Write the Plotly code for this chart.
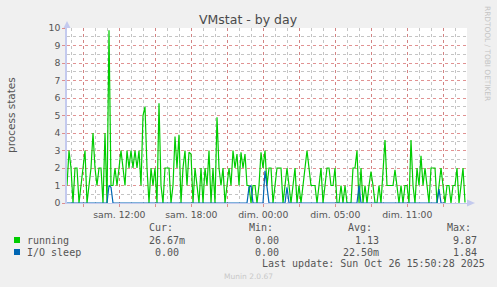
import plotly.graph_objects as go

# ---- data (one sample every 10 minutes, hours from window start) ----
running = [
    1, 3, 2, 0, 2, 2, 0, 1, 2, 3, 0, 1, 2, 4, 2, 1, 2, 2, 0, 4,
    0, 9.87, 1, 1, 2, 1, 2, 3, 2, 1, 3, 2, 3, 2,
    3, 2, 3, 1, 5, 5.5, 2, 0, 2, 1, 2, 0, 5.7, 1, 0, 2, 2, 2, 0, 1,
    3.8, 2, 3.9, 0, 2, 3, 1, 2.9, 2.8, 0, 2, 1, 0, 2,
    0, 2, 1, 3, 0, 2, 0, 4.9, 2, 1, 2, 0, 1, 2, 1, 3, 2, 2.8, 1, 2.9,
    2, 2.8, 1, 1, 0, 1, 1, 0, 1, 2.9, 2, 3, 1, 2,
    2, 0, 1, 2, 2, 2, 0, 1, 2, 1, 0, 1, 2, 0, 1, 0, 1, 2, 3, 2,
    1, 1, 1, 0, 1, 2, 0, 1, 2, 2, 1, 1, 2, 0,
    0, 1, 0, 1, 0, 0, 0, 2, 2, 3, 0, 2, 0, 1, 0, 1, 1.8, 1, 0, 0,
    1, 0, 2, 3.6, 1, 1, 1, 1, 1.9, 1, 0, 1, 0, 1,
    1, 0, 3.6, 1, 0, 2, 1, 2.7, 1, 2, 1, 0, 2, 2, 2, 0, 1, 2, 1, 0,
    1, 1, 0, 1, 1, 2, 0, 1, 2, 0.03,
]
io_sleep = [
    0, 0, 0, 0, 0, 0, 0, 0, 0, 0, 0, 0, 0, 0, 0, 0, 0, 0, 0, 0,
    0, 1, 0.9, 0, 0, 0, 0, 0, 0, 0, 0, 0, 0, 0, 0, 0, 0, 0, 0, 0,
    0, 0, 0, 0, 0, 0, 0, 0, 0, 0, 0, 0, 0, 0, 0, 0, 0, 0, 0, 0,
    0, 0, 0, 0, 0, 0, 0, 0, 0, 0, 0, 0, 0, 0, 0, 0, 0, 0, 0, 0,
    0, 0, 0, 0, 0, 0, 0, 0, 0, 0, 0, 0.9, 1, 0, 0, 0, 0, 0, 0, 1.84,
    1, 0, 0, 0, 0, 0, 0, 0, 0, 0, 0.9, 0, 0, 0, 0, 0, 0, 0, 0, 0,
    0, 0, 0, 0, 0, 0, 0, 0, 0, 0, 0, 0, 0, 0, 0, 0, 0, 0, 0, 0,
    0, 0, 0, 0, 0, 0, 1, 0, 0, 0, 0, 0, 0, 0, 0, 0, 0, 0, 0, 0,
    0, 0, 0, 0, 0, 0, 0, 0, 0, 0, 0, 0, 0, 0, 0, 0, 0, 0, 0, 0,
    0, 0, 0, 0, 0, 0, 0.8, 0, 0, 0,
]
hours = [i / 6 for i in range(len(running))]

major_ticks = [1.36 + 3 * k for k in range(11)]
major_text = ["", "sam. 12:00", "", "sam. 18:00", "", "dim. 00:00", "",
              "dim. 05:00", "", "dim. 11:00", ""]

series_names = ["running", "I/O sleep"]
series_colors = ["#00CC00", "#0066B3"]
legend_cur = ["26.67m", "0.00"]
legend_min = ["0.00", "0.00"]
legend_avg = ["1.13", "22.50m"]
legend_max = ["9.87", "1.84"]

# ---- geometry helpers ----
W, H = 497, 287
L, R, T, B = 67, 467, 28, 203


def px(x):
    return (x - L) / (R - L)


def py(y):
    return (B - y) / (B - T)


fig = go.Figure()
for name, ys, col in zip(series_names, [running, io_sleep], series_colors):
    fig.add_trace(go.Scatter(x=hours, y=ys, mode="lines", name=name,
                             line=dict(color=col, width=1.2), hoverinfo="skip"))

grid_red = "rgba(215,110,110,0.75)"
grid_gray = "rgba(190,190,190,0.9)"
axis_col = "#C4CAEE"

fig.update_layout(
    width=W, height=H,
    margin=dict(l=L, r=W - R, t=T, b=H - B),
    paper_bgcolor="#F0F0F0", plot_bgcolor="white",
    showlegend=False,
    font=dict(family="DejaVu Sans", color="#555555"),
    xaxis=dict(range=[0, (R - L) / 12], tickmode="array", tickvals=major_ticks,
               ticktext=major_text, ticks="outside", ticklen=3, tickcolor=grid_red,
               tickfont=dict(size=9.3, color="#555555"),
               showgrid=True, gridcolor=grid_red, griddash="dot", gridwidth=1,
               minor=dict(tick0=1.36, dtick=1, showgrid=True, gridcolor=grid_gray,
                          griddash="dot", gridwidth=1),
               showline=True, linecolor=axis_col, linewidth=1, zeroline=False),
    yaxis=dict(range=[0, 10], dtick=1, ticks="outside", ticklen=3, tickcolor=grid_red,
               tickfont=dict(size=9.3, color="#555555"),
               showgrid=True, gridcolor=grid_red, griddash="dot", gridwidth=1,
               minor=dict(dtick=0.5, showgrid=True, gridcolor=grid_gray,
                          griddash="dot", gridwidth=1),
               showline=True, linecolor=axis_col, linewidth=1.5, zeroline=False),
)

shapes = [
    # axis arrows
    dict(type="path", xref="paper", yref="paper",
         path=f"M {px(63.5)} {py(28)} L {px(70.5)} {py(28)} L {px(67)} {py(21)} Z",
         fillcolor=axis_col, line=dict(width=0)),
    dict(type="path", xref="paper", yref="paper",
         path=f"M {px(467)} {py(199.5)} L {px(467)} {py(206.5)} L {px(475)} {py(203)} Z",
         fillcolor=axis_col, line=dict(width=0)),
]
for i, col in enumerate(series_colors):
    yc = 240 + 12 * i
    shapes.append(dict(type="rect", xref="paper", yref="paper",
                       x0=px(14), x1=px(20), y0=py(yc - 3), y1=py(yc + 3),
                       fillcolor=col, line=dict(width=0)))
fig.update_layout(shapes=shapes)

ann = []


def text(t, x, y, anchor="left", size=10, color="#555555", family="DejaVu Sans Mono", angle=0):
    ann.append(dict(text=t, x=px(x), y=py(y), xref="paper", yref="paper",
                    xanchor=anchor, yanchor="middle", showarrow=False,
                    textangle=angle, borderpad=0, borderwidth=0,
                    font=dict(size=size, color=color, family=family)))


text("VMstat - by day", 248.5, 19, anchor="center", size=12.5, color="#4a4a4a",
     family="DejaVu Sans")
text("process states", 11, 115, anchor="center", size=10.5, color="#555555",
     family="DejaVu Sans", angle=-90)
text("RRDTOOL / TOBI OETIKER", 488, 53, anchor="center", size=7.4, color="#c4c4c4",
     family="DejaVu Sans", angle=90)

text("Cur:", 149, 227)
text("Min:", 249, 227)
text("Avg:", 348, 227)
text("Max:", 447, 227)
for i, name in enumerate(series_names):
    yy = 240 + 12 * i
    text(name, 27, yy)
    text(legend_cur[i], 185 if legend_cur[i].endswith("m") else 179, yy, anchor="right")
    text(legend_min[i], 279, yy, anchor="right")
    text(legend_avg[i], 379 if legend_avg[i].endswith("m") else 379, yy, anchor="right")
    text(legend_max[i], 477, yy, anchor="right")
text("Last update: Sun Oct 26 15:50:28 2025", 262, 263.5)
text("Munin 2.0.67", 248.5, 276, anchor="center", size=7.5, color="#c8c8c8",
     family="DejaVu Sans")

fig.update_layout(annotations=ann)
fig.write_html("out.html")
